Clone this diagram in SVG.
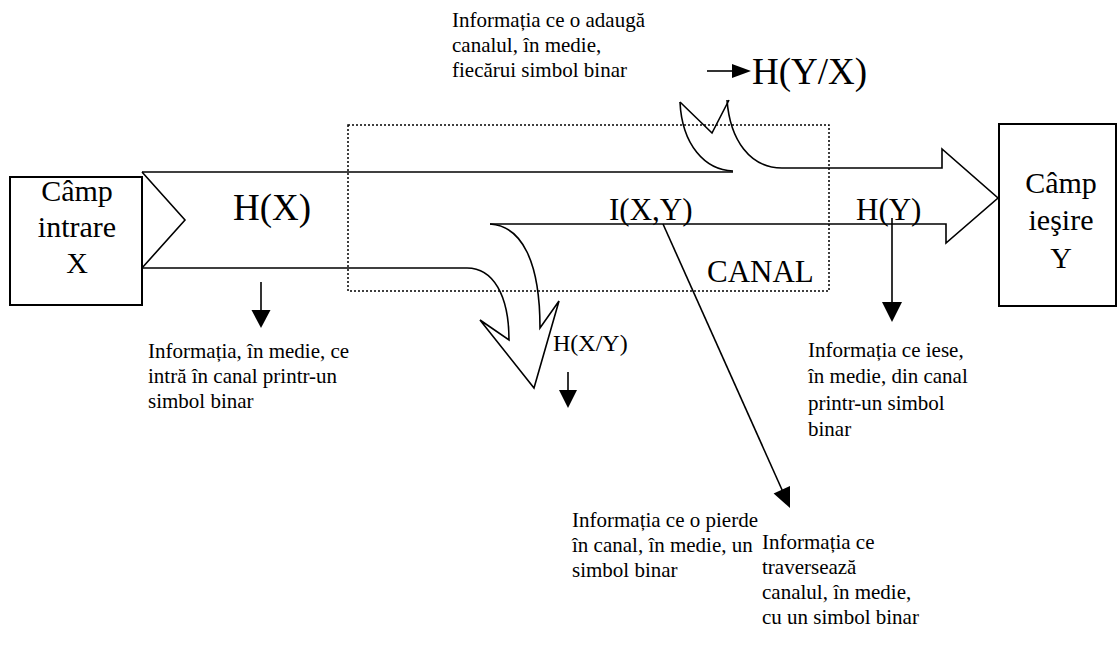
<svg xmlns="http://www.w3.org/2000/svg" width="1118" height="645" viewBox="0 0 1118 645">
  <defs>
    <style>
      .ln { fill: none; stroke: #000; stroke-width: 1.6; stroke-linejoin: miter; }
      .box { fill: #fff; stroke: #000; stroke-width: 2; }
      .dot { fill: none; stroke: #000; stroke-width: 1.5; stroke-dasharray: 2 2; }
      .head { fill: #000; stroke: none; }
      text { font-family: "Liberation Serif", "Times New Roman", serif; fill: #000; }
      .big { font-size: 37px; }
      .mid { font-size: 31px; }
      .box-t { font-size: 30px; text-anchor: middle; }
      .lbl { font-size: 21px; }
    </style>
  </defs>
  <rect width="1118" height="645" fill="#fff"/>

  <!-- channel boundary -->
  <g id="canal">
    <rect class="dot" x="348" y="125" width="481" height="166"/>
    <text class="mid" x="707" y="282">CANAL</text>
  </g>

  <!-- input field -->
  <g id="camp-intrare">
    <rect class="box" x="10" y="177" width="132" height="128"/>
    <text class="box-t" x="77" y="201">Câmp</text>
    <text class="box-t" x="77" y="237">intrare</text>
    <text class="box-t" x="77" y="273">X</text>
  </g>

  <!-- output field -->
  <g id="camp-iesire">
    <rect class="box" x="999" y="124" width="117" height="182"/>
    <text class="box-t" x="1061" y="193">Câmp</text>
    <text class="box-t" x="1061" y="230">ieşire</text>
    <text class="box-t" x="1061" y="268">Y</text>
  </g>

  <!-- information flow: block arrows -->
  <g id="connectors">
    <!-- input arrow tail and body -->
    <path class="ln" d="M142,172 L185,220 L142,268"/>
    <path class="ln" d="M142,172 L733,172"/>
    <!-- lost information branch H(X/Y) -->
    <path class="ln" d="M142,268 L467,268 C493,268 509,295 509,340 L480,320 L534,388 L559,301 L540,328 C540,262 522,226 490,224"/>
    <!-- transmitted information I(X,Y) and output arrow -->
    <path class="ln" d="M490,224 L946,224 L946,243 L998,198 L942,149 L942,168 L782,168"/>
    <!-- added information branch H(Y/X) -->
    <path class="ln" d="M680,102 C682,145 705,170 733,171"/>
    <path class="ln" d="M727,100 C730,140 750,168 782,168"/>
    <path class="ln" d="M680,102 L712,133 L729,100"/>

    <!-- pointer arrows -->
    <path class="ln" d="M261,282 L261,311"/>
    <path class="head" d="M251.5,310 L270.5,310 L261,328 Z"/>
    <path class="ln" d="M892,218 L892,303"/>
    <path class="head" d="M882,302 L902,302 L892,322 Z"/>
    <path class="ln" d="M663,224 L783,492"/>
    <path class="head" d="M773.6,493.4 L790,486 L790,508 Z"/>
    <path class="ln" d="M707,71 L734,71"/>
    <path class="head" d="M732,64 L751,71 L732,78 Z"/>
    <path class="ln" d="M568,372 L568,391"/>
    <path class="head" d="M559,390 L577,390 L568,408 Z"/>
  </g>

  <!-- quantity labels -->
  <g id="h-x"><text class="big" x="233" y="220">H(X)</text></g>
  <g id="i-xy"><text class="mid" x="609" y="220">I(X,Y)</text></g>
  <g id="h-y"><text class="mid" x="856" y="220">H(Y)</text></g>
  <g id="h-y-x"><text class="big" x="752" y="84">H(Y/X)</text></g>
  <g id="h-x-y"><text class="lbl" style="font-size:24px" x="553" y="351">H(X/Y)</text></g>

  <!-- explanations -->
  <g id="nota-adaugata">
    <text class="lbl" x="452" y="27">Informația ce o adaugă</text>
    <text class="lbl" x="452" y="52">canalul, în medie,</text>
    <text class="lbl" x="452" y="77">fiecărui simbol binar</text>
  </g>
  <g id="nota-intrare">
    <text class="lbl" x="148" y="358">Informația, în medie, ce</text>
    <text class="lbl" x="148" y="383">intră în canal printr-un</text>
    <text class="lbl" x="148" y="408">simbol binar</text>
  </g>
  <g id="nota-pierduta">
    <text class="lbl" x="572" y="527">Informația ce o pierde</text>
    <text class="lbl" x="572" y="552">în canal, în medie, un</text>
    <text class="lbl" x="572" y="577">simbol binar</text>
  </g>
  <g id="nota-traversata">
    <text class="lbl" x="762" y="549">Informația ce</text>
    <text class="lbl" x="762" y="574">traversează</text>
    <text class="lbl" x="762" y="599">canalul, în medie,</text>
    <text class="lbl" x="762" y="624">cu un simbol binar</text>
  </g>
  <g id="nota-iesire">
    <text class="lbl" x="808" y="357">Informația ce iese,</text>
    <text class="lbl" x="808" y="383">în medie, din canal</text>
    <text class="lbl" x="808" y="410">printr-un  simbol</text>
    <text class="lbl" x="808" y="436">binar</text>
  </g>
</svg>
